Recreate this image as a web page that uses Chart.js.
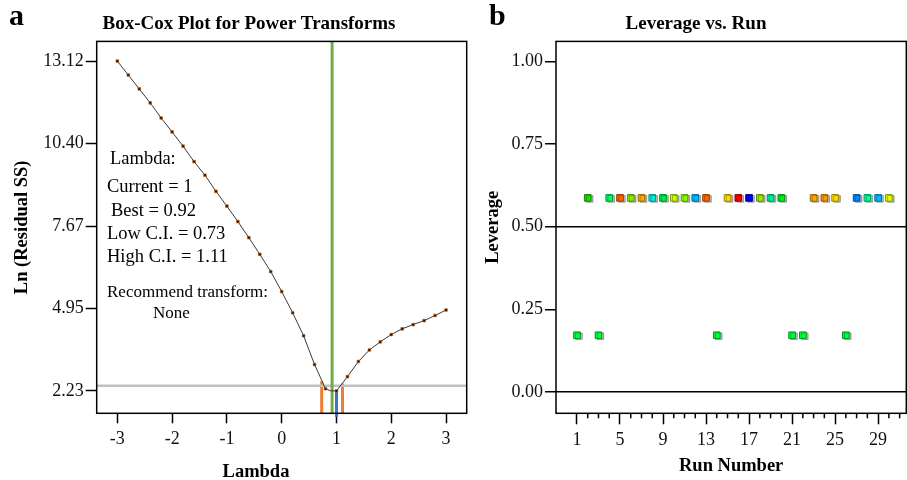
<!DOCTYPE html>
<html><head><meta charset="utf-8">
<script src="https://cdn.jsdelivr.net/npm/chart.js@4.4.1/dist/chart.umd.min.js"></script>
<style>
html,body{margin:0;padding:0;width:907px;height:480px;overflow:hidden;background:#fff;}
#wrap{position:relative;width:907px;height:480px;overflow:hidden;}
canvas{position:absolute;top:0;}
.t{position:absolute;font-family:'Liberation Serif','Times New Roman',serif;color:#000;line-height:1;white-space:nowrap;}
</style></head><body>
<div id="wrap">
<canvas id="c1" width="498" height="480" style="left:0px"></canvas>
<canvas id="c2" width="432" height="480" style="left:480px"></canvas>
<div class="t" style="left:9px;top:0px;font-size:30px;font-weight:bold">a</div>
<div class="t" style="left:489px;top:0px;font-size:30px;font-weight:bold">b</div>
<div class="t" style="left:110px;top:149px;font-size:18.5px">Lambda:</div>
<div class="t" style="left:107px;top:177.2px;font-size:18.5px">Current = 1</div>
<div class="t" style="left:111px;top:201.2px;font-size:18.5px">Best = 0.92</div>
<div class="t" style="left:107px;top:223.8px;font-size:18.5px">Low C.I. = 0.73</div>
<div class="t" style="left:107px;top:246.8px;font-size:18.5px">High C.I. = 1.11</div>
<div class="t" style="left:107px;top:282.8px;font-size:17px">Recommend transform:</div>
<div class="t" style="left:153px;top:303.8px;font-size:17px">None</div>
<div class="t" style="left:256px;top:461.5px;font-size:18.5px;font-weight:bold;transform:translateX(-50%)">Lambda</div>
</div>
<script>
// ---------- Panel a: Box-Cox ----------
const lambdaValues = [-3,-2.8,-2.6,-2.4,-2.2,-2,-1.8,-1.6,-1.4,-1.2,-1,-0.8,-0.6,-0.4,-0.2,0,0.2,0.4,0.6,0.8,0.9,1,1.2,1.4,1.6,1.8,2,2.2,2.4,2.6,2.8,3];
const lnResidualSS = [13.12,12.66,12.20,11.74,11.24,10.78,10.31,9.80,9.35,8.82,8.33,7.82,7.29,6.74,6.17,5.51,4.81,4.05,3.10,2.30,2.23,2.23,2.70,3.20,3.58,3.85,4.09,4.28,4.42,4.55,4.72,4.90];
const lambdaTicks = [-3,-2,-1,0,1,2,3];
const lnTickValues = [2.23,4.95,7.67,10.40,13.12];
const lnTickLabels = ['2.23','4.95','7.67','10.40','13.12'];
const bestLambda = 0.92;
const currentLambda = 1;
const lowCI = 0.73;
const highCI = 1.11;
const ciThreshold = 2.40;
const lowCITop = 2.55;
const highCITop = 2.47;
const currentRange = [1.37, 2.21];
const lambdaAxis = [-3.377, 3.377];
const lnAxis = [1.49, 13.77];

// ---------- Panel b: Leverage ----------
const runNumbers = [1,2,3,4,5,6,7,8,9,10,11,12,13,14,15,16,17,18,19,20,21,22,23,24,25,26,27,28,29,30];
const leverage = [0.172,0.587,0.172,0.587,0.587,0.587,0.587,0.587,0.587,0.587,0.587,0.587,0.587,0.172,0.587,0.587,0.587,0.587,0.587,0.587,0.172,0.172,0.587,0.587,0.587,0.172,0.587,0.587,0.587,0.587];
const runColors = ['#00ff40','#22dd00','#00ff40','#00ff66','#ff6600','#88ee00','#ffaa00','#00eedd','#00ee44','#ccff00','#88ff00','#00bbff','#ff6600','#00ff40','#ffdd00','#ff0000','#0000ff','#99ee00','#00ee99','#00ee22','#00ff40','#00ff40','#ffaa00','#ff9900','#ffdd00','#00ff40','#0088ff','#00ff99','#00bbff','#ddff00'];
const runTickValues = [1,2,3,4,5,6,7,8,9,10,11,12,13,14,15,16,17,18,19,20,21,22,23,24,25,26,27,28,29,30,31];
const runMajorTicks = [1,5,9,13,17,21,25,29];
const leverageTicks = [0,0.25,0.5,0.75,1];
const leverageRefLines = [0,0.5];
const runAxis = [-0.949, 31.62];
const leverageAxis = [-0.064, 1.06];

const SERIF = "'Liberation Serif','Times New Roman',serif";
Chart.defaults.color = '#000';
Chart.defaults.font.family = SERIF;

function darken(hex, f){
  const n = parseInt(hex.slice(1),16);
  const r = Math.round(((n>>16)&255)*f), g = Math.round(((n>>8)&255)*f), b = Math.round((n&255)*f);
  return 'rgb('+r+','+g+','+b+')';
}

const framePlugin = {
  id:'frame',
  afterDatasetsDraw(chart){
    const {ctx, chartArea:a} = chart;
    ctx.save(); ctx.strokeStyle='#000'; ctx.lineWidth=1.5;
    ctx.strokeRect(a.left, a.top, a.right-a.left, a.bottom-a.top);
    ctx.restore();
  }
};

const seg = (x0,y0,x1,y1)=>[{x:x0,y:y0},{x:x1,y:y1}];
const TICK_FONT = {family:SERIF, size:18};
const AXIS_TITLE_FONT = {family:SERIF, size:18.5, weight:'bold'};
const CHART_TITLE_FONT = {family:SERIF, size:19, weight:'bold'};

new Chart(document.getElementById('c1'), {
  type:'scatter',
  data:{ datasets:[
    { label:'Ln(Residual SS)', data: lambdaValues.map((x,i)=>({x, y:lnResidualSS[i]})), showLine:true,
      borderColor:'#3a3a3a', borderWidth:1, tension:0,
      pointStyle:'rect', pointRadius: lambdaValues.map(v=> (v===0.9?0:1.9)),
      pointBackgroundColor:'#2a1400', pointBorderColor:'#c06010', pointBorderWidth:0.6, order:0 },
    { label:'Best', data: seg(bestLambda, lnAxis[0], bestLambda, lnAxis[1]), showLine:true,
      borderColor:'#70ad47', borderWidth:3, pointRadius:0, order:1, borderCapStyle:'butt' },
    { label:'Threshold', data: seg(lambdaAxis[0], ciThreshold, lambdaAxis[1], ciThreshold), showLine:true,
      borderColor:'#bfbfbf', borderWidth:2.5, pointRadius:0, order:2, borderCapStyle:'butt' },
    { label:'Low CI', data: seg(lowCI, lnAxis[0], lowCI, lowCITop), showLine:true,
      borderColor:'#ed7d31', borderWidth:3, pointRadius:0, order:3, borderCapStyle:'butt' },
    { label:'High CI', data: seg(highCI, lnAxis[0], highCI, highCITop), showLine:true,
      borderColor:'#ed7d31', borderWidth:3, pointRadius:0, order:3, borderCapStyle:'butt' },
    { label:'Current', data: seg(currentLambda, currentRange[0], currentLambda, currentRange[1]), showLine:true,
      borderColor:'#4472c4', borderWidth:3, pointRadius:0, order:3, clip:false, borderCapStyle:'butt' }
  ]},
  options:{
    responsive:false, animation:false, devicePixelRatio:1, events:[],
    layout:{ padding:{ left:31.3, right:31.3, top:0, bottom:0 } },
    plugins:{
      legend:{display:false}, tooltip:{enabled:false},
      title:{ display:true, text:'Box-Cox Plot for Power Transforms', color:'#000',
        font:CHART_TITLE_FONT, padding:{ top:12.6, bottom:6 } }
    },
    scales:{
      x:{ type:'linear', min:lambdaAxis[0], max:lambdaAxis[1],
        afterBuildTicks(s){ s.ticks = lambdaTicks.map(v=>({value:v})); },
        afterFit(s){ s.height = 66.7; },
        ticks:{ callback:(v)=> String(v), font:TICK_FONT, color:'#111', padding:5, maxRotation:0, autoSkip:false },
        grid:{ display:true, drawOnChartArea:false, tickLength:10, tickWidth:1.5, tickColor:'#000' },
        border:{ display:false }
      },
      y:{ type:'linear', min:lnAxis[0], max:lnAxis[1],
        afterBuildTicks(s){ s.ticks = lnTickValues.map(v=>({value:v})); },
        afterFit(s){ s.width = 65.4; },
        ticks:{ callback:(v)=> lnTickLabels[lnTickValues.indexOf(v)], font:TICK_FONT, color:'#111', padding:2, autoSkip:false },
        grid:{ display:true, drawOnChartArea:false, tickLength:11, tickWidth:1.5, tickColor:'#000' },
        border:{ display:false },
        title:{ display:true, text:'Ln (Residual SS)', color:'#000', font:AXIS_TITLE_FONT, padding:{top:-20.4, bottom:0} }
      }
    }
  },
  plugins:[framePlugin]
});

const shadowPlugin = {
  id:'shadow',
  beforeDatasetDraw(chart){ const c=chart.ctx; c.save(); c.shadowColor='rgba(0,0,0,0.28)'; c.shadowOffsetX=2; c.shadowOffsetY=1; c.shadowBlur=0; },
  afterDatasetDraw(chart){ chart.ctx.restore(); }
};
const minorTickPlugin = {
  id:'minorTicks',
  afterDraw(chart){
    const s = chart.scales.x, ctx = chart.ctx, b = chart.chartArea.bottom;
    ctx.save(); ctx.strokeStyle='#000'; ctx.lineWidth=1.5;
    s.ticks.forEach(t=>{
      if(!runMajorTicks.includes(t.value)){
        const x = s.getPixelForValue(t.value);
        ctx.beginPath(); ctx.moveTo(x, b); ctx.lineTo(x, b+5); ctx.stroke();
      }
    });
    ctx.restore();
  }
};

new Chart(document.getElementById('c2'), {
  type:'scatter',
  data:{ datasets:[
    { label:'Leverage', data: runNumbers.map((r,i)=>({x:r, y:leverage[i]})),
      pointStyle:'rect', pointRadius:4.7, pointBorderWidth:1,
      pointBackgroundColor: runColors, pointBorderColor: runColors.map(c=>darken(c,0.6)) }
  ]},
  options:{
    responsive:false, animation:false, devicePixelRatio:1, events:[],
    layout:{ padding:{ left:0, right:0, top:0, bottom:0 } },
    plugins:{
      legend:{display:false}, tooltip:{enabled:false},
      title:{ display:true, text:'Leverage vs. Run', color:'#000',
        font:CHART_TITLE_FONT, padding:{ top:12.6, bottom:6 } }
    },
    scales:{
      x:{ type:'linear', min:runAxis[0], max:runAxis[1],
        afterBuildTicks(s){ s.ticks = runTickValues.map(v=>({value:v})); },
        afterFit(s){ s.height = 66.7; },
        ticks:{ callback:(v)=> runMajorTicks.includes(v) ? String(v) : '', font:TICK_FONT, color:'#111', padding:5, maxRotation:0, autoSkip:false },
        grid:{ display:true, drawOnChartArea:false, tickLength:11, tickWidth:1.5,
          tickColor:(c)=> (c.tick && runMajorTicks.includes(c.tick.value)) ? '#000' : 'rgba(0,0,0,0)' },
        border:{ display:false },
        title:{ display:true, text:'Run Number', color:'#000', font:AXIS_TITLE_FONT, padding:{top:0, bottom:2.6} }
      },
      y:{ type:'linear', min:leverageAxis[0], max:leverageAxis[1],
        afterBuildTicks(s){ s.ticks = leverageTicks.map(v=>({value:v})); },
        afterFit(s){ s.width = 76; },
        ticks:{ callback:(v)=> v.toFixed(2), font:TICK_FONT, color:'#111', padding:2, autoSkip:false },
        grid:{ display:true, drawOnChartArea:true, lineWidth:1.5, tickLength:11, tickWidth:1.5, tickColor:'#000',
          color:(c)=> (c.tick && leverageRefLines.includes(c.tick.value)) ? '#000' : 'rgba(0,0,0,0)' },
        border:{ display:false },
        title:{ display:true, text:'Leverage', color:'#000', font:AXIS_TITLE_FONT, padding:{top:1.9, bottom:0} }
      }
    }
  },
  plugins:[framePlugin, shadowPlugin, minorTickPlugin]
});
</script>
</body></html>
